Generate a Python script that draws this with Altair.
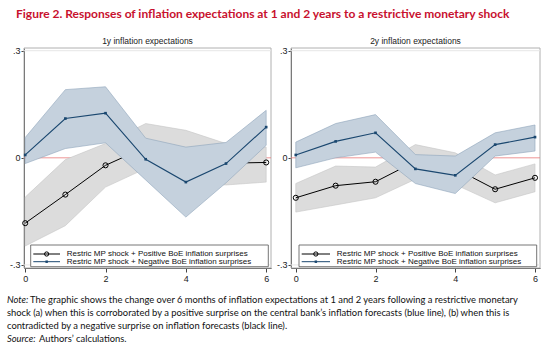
import altair as alt
import pandas as pd

# ---------------- data ----------------
steps = [0, 1, 2, 3, 4, 5, 6]

# 1-year expectations
pos_1y = [-0.183, -0.103, -0.021, 0.030, 0.005, -0.015, -0.013]
pos_1y_hi = [-0.110, -0.005, 0.040, 0.096, 0.077, 0.040, 0.030]
pos_1y_lo = [-0.247, -0.190, -0.082, -0.030, -0.070, -0.076, -0.068]
neg_1y = [0.008, 0.110, 0.125, -0.004, -0.068, -0.016, 0.086]
neg_1y_hi = [0.057, 0.191, 0.199, 0.055, 0.030, 0.043, 0.133]
neg_1y_lo = [-0.016, 0.026, 0.042, -0.062, -0.166, -0.070, 0.035]

# 2-year expectations
pos_2y = [-0.112, -0.078, -0.067, -0.010, -0.030, -0.088, -0.056]
pos_2y_hi = [-0.072, -0.023, -0.026, 0.037, 0.014, -0.048, -0.017]
pos_2y_lo = [-0.152, -0.132, -0.112, -0.060, -0.075, -0.126, -0.095]
neg_2y = [0.008, 0.046, 0.070, -0.031, -0.049, 0.037, 0.058]
neg_2y_hi = [0.044, 0.096, 0.121, 0.009, 0.005, 0.070, 0.092]
neg_2y_lo = [-0.028, 0.000, 0.016, -0.072, -0.100, 0.005, 0.019]

TITLE = "Figure 2. Responses of inflation expectations at 1 and 2 years to a restrictive monetary shock"
PANEL_TITLES = ["1y inflation expectations", "2y inflation expectations"]
LEGEND_LABELS = ["Restric MP shock + Positive BoE inflation surprises",
                 "Restric MP shock + Negative BoE inflation surprises"]
Y_TICKS = [-0.3, 0, 0.3]
X_TICKS = [0, 2, 4, 6]
NOTE_LABEL = "Note:"
NOTE_LINES = [
    "The graphic shows the change over 6 months of inflation expectations at 1 and 2 years following a restrictive monetary",
    "shock (a) when this is corroborated by a positive surprise on the central bank\u2019s inflation forecasts (blue line), (b) when this is",
    "contradicted by a negative surprise on inflation forecasts (black line).",
]
SOURCE_LABEL = "Source:"
SOURCE_TEXT = "Authors\u2019 calculations."

# ---------------- styles / layout ----------------
BLUE = "#1a476f"
BLUE_FILL = "#c5d1dd"
BLUE_EDGE = "#8ea5bb"
GRAY_FILL = "#dcdcdc"
GRAY_EDGE = "#c6c6c6"
RED = "#e8797a"
FRAME = "#b0b0b0"
AX = "Liberation Sans"
NOTE_FONT = "Lato"

CW, CH = 550, 348
PT, PB = 48, 268          # plot top / bottom (px)
YDOM = [-0.3086, 0.3076]

one = alt.Chart(pd.DataFrame({"k": [0]}))


def txt(s, x, y, **kw):
    style = dict(align="left", baseline="middle")
    style.update(kw)
    return one.mark_text(**style).encode(x=alt.value(x), y=alt.value(y), text=alt.value(s))


def panel(df, title, xr, xdom, leg):
    x0, x1 = xr
    xs = alt.Scale(domain=xdom, range=[x0, x1], nice=False, zero=False)
    ys = alt.Scale(domain=YDOM, range=[PB, PT], nice=False, zero=False)
    xax = alt.Axis(orient="bottom", offset=-(CH - PB), values=X_TICKS, title=None, format="d",
                   grid=False, tickSize=4, labelFontSize=9, labelPadding=2, domainColor="#444",
                   tickColor="#444", labelColor="#222", labelFont=AX)
    yax = alt.Axis(orient="left", offset=-x0, values=Y_TICKS, title=None,
                   labelExpr="datum.value > 0.1 ? '.3' : (datum.value < -0.1 ? '-.3' : '0')",
                   grid=False, tickSize=3, labelFontSize=9, labelPadding=1,
                   domainColor="#444", tickColor="#444", labelColor="#222", labelFont=AX)
    X = alt.X("step:Q", scale=xs, axis=xax)

    def Y(f):
        return alt.Y(f, scale=ys, axis=yax)

    base = alt.Chart(df)
    frame = one.mark_rect(fillOpacity=0, stroke=FRAME, strokeWidth=1).encode(
        x=alt.value(x0), x2=alt.value(x1), y=alt.value(PT), y2=alt.value(PB))
    grid = alt.Chart(pd.DataFrame({"g": [v for v in Y_TICKS if v != 0]})).mark_rule(
        color="#e6e6e6", strokeWidth=1).encode(y=Y("g:Q"), x=alt.value(x0), x2=alt.value(x1))
    zero = alt.Chart(pd.DataFrame({"z": [0]})).mark_rule(color=RED, strokeWidth=0.8).encode(
        y=Y("z:Q"), x=alt.value(x0), x2=alt.value(x1))
    gband = base.mark_area(color=GRAY_FILL, opacity=1, stroke=GRAY_EDGE, strokeWidth=0.6).encode(
        x=X, y=Y("pos_lo:Q"), y2="pos_hi:Q")
    gline = base.mark_line(color="black", strokeWidth=1).encode(x=X, y=Y("pos:Q"))
    gpts = base.mark_point(shape="circle", filled=False, color="black", size=26, strokeWidth=1,
                           opacity=1).encode(x=X, y=Y("pos:Q"))
    bband = base.mark_area(color=BLUE_FILL, opacity=1, stroke=BLUE_EDGE, strokeWidth=0.6).encode(
        x=X, y=Y("neg_lo:Q"), y2="neg_hi:Q")
    bline = base.mark_line(color=BLUE, strokeWidth=1.1).encode(x=X, y=Y("neg:Q"))
    bpts = base.mark_square(color=BLUE, size=7, opacity=1).encode(x=X, y=Y("neg:Q"))

    bx0, bx1, by0, by1, lx0, lx1, tx, r1, r2 = leg
    lbox = one.mark_rect(fill="white", stroke="#666", strokeWidth=0.9).encode(
        x=alt.value(bx0), x2=alt.value(bx1), y=alt.value(by0), y2=alt.value(by1))
    l1 = one.mark_rule(color="black", strokeWidth=1).encode(
        x=alt.value(lx0), x2=alt.value(lx1), y=alt.value(r1))
    p1 = one.mark_point(shape="circle", filled=False, color="black", size=18, strokeWidth=1,
                        opacity=1).encode(x=alt.value((lx0 + lx1) / 2), y=alt.value(r1))
    l2 = one.mark_rule(color=BLUE, strokeWidth=1).encode(
        x=alt.value(lx0), x2=alt.value(lx1), y=alt.value(r2))
    p2 = one.mark_square(color=BLUE, size=6, opacity=1).encode(
        x=alt.value((lx0 + lx1) / 2), y=alt.value(r2))
    t1 = txt(LEGEND_LABELS[0], tx, r1, fontSize=8, font=AX, color="#111")
    t2 = txt(LEGEND_LABELS[1], tx, r2, fontSize=8, font=AX, color="#111")
    ttl = txt(title, (x0 + x1) / 2, 41, align="center", fontSize=8.5, font=AX, color="#222")

    return alt.layer(frame, grid, zero, gband, gline, gpts, bband, bline, bpts,
                     lbox, l1, p1, l2, p2, t1, t2, ttl)


df1 = pd.DataFrame({"step": steps, "pos": pos_1y, "pos_hi": pos_1y_hi, "pos_lo": pos_1y_lo,
                    "neg": neg_1y, "neg_hi": neg_1y_hi, "neg_lo": neg_1y_lo})
df2 = pd.DataFrame({"step": steps, "pos": pos_2y, "pos_hi": pos_2y_hi, "pos_lo": pos_2y_lo,
                    "neg": neg_2y, "neg_hi": neg_2y_hi, "neg_lo": neg_2y_lo})

left = panel(df1, PANEL_TITLES[0], (24, 271), [-0.03, 6.12],
             (30.7, 268.3, 245, 266.7, 33.3, 60, 66.7, 254, 261.7))
right = panel(df2, PANEL_TITLES[1], (291, 540), [-0.12, 6.125],
              (299, 536.7, 245, 266.7, 301.7, 330, 336.7, 254, 261.7))

NX = 7
nst = dict(fontSize=9.4, font=NOTE_FONT, color="#111")
texts = alt.layer(
    txt(TITLE, 16, 14, fontSize=12, font=NOTE_FONT, fontWeight="bold", color="#c8102e"),
    txt(NOTE_LABEL, NX, 299.5, fontStyle="italic", **nst),
    txt(NOTE_LINES[0], NX + 23, 299.5, **nst),
    txt(NOTE_LINES[1], NX, 312.5, **nst),
    txt(NOTE_LINES[2], NX, 325.5, **nst),
    txt(SOURCE_LABEL, NX, 338.5, fontStyle="italic", **nst),
    txt(SOURCE_TEXT, NX + 32, 338.5, **nst),
)

chart = alt.layer(left, right, texts).resolve_scale(
    x="independent", y="independent"
).properties(
    width=CW, height=CH, padding=0, autosize=alt.AutoSizeParams(type="none"),
).configure_view(stroke="transparent")

chart.save("out.html", embed_options={"renderer": "svg", "actions": False})
